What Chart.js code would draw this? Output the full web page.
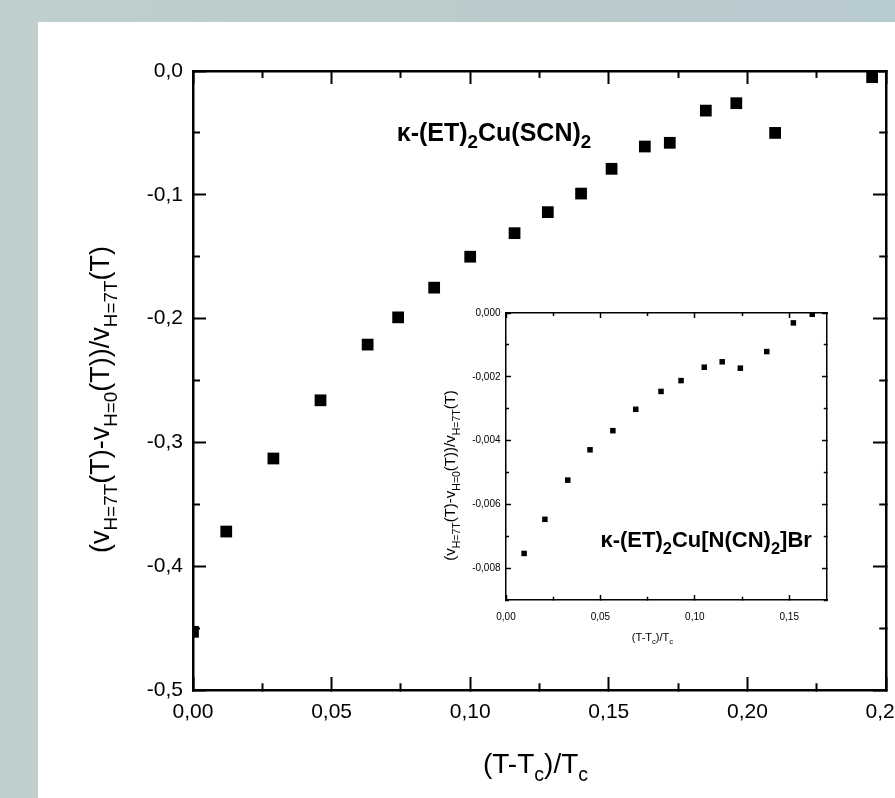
<!DOCTYPE html>
<html>
<head>
<meta charset="utf-8">
<title>Sound velocity change vs reduced temperature</title>
<script src="https://cdn.jsdelivr.net/npm/chart.js@4.4.1/dist/chart.umd.min.js"></script>
<style>
    html, body {
        margin: 0;
        width: 895px;
        height: 798px;
        overflow: hidden;
    }
    body {
        background: linear-gradient(90deg, #bfcfcc 0%, #bccccd 50%, #b7cad0 100%);
    }
    #panel {
        position: absolute;
        left: 38px;
        top: 22px;
        right: 0;
        bottom: 0;
        background: #ffffff;
    }
    #mainChart {
        position: absolute;
        left: 38px;
        top: 22px;
    }
    #insetChart {
        position: absolute;
        left: 440px;
        top: 295px;
        background: #ffffff;
    }
</style>
</head>
<body>
<div id="panel"></div>
<canvas id="mainChart" width="892" height="776"></canvas>
<canvas id="insetChart" width="400" height="355"></canvas>
<script>
// kappa-(ET)2Cu(SCN)2, main panel
const mainX = [0.000, 0.012, 0.029, 0.046, 0.063, 0.074, 0.087, 0.100, 0.116, 0.128, 0.140, 0.151, 0.163, 0.172, 0.185, 0.196, 0.210, 0.245];
const mainY = [-0.453, -0.372, -0.313, -0.266, -0.221, -0.199, -0.175, -0.150, -0.131, -0.114, -0.099, -0.079, -0.061, -0.058, -0.032, -0.026, -0.050, -0.005];

// kappa-(ET)2Cu[N(CN)2]Br, inset
const insetX = [0.0096, 0.0206, 0.0327, 0.0445, 0.0566, 0.0687, 0.0821, 0.0927, 0.1050, 0.1145, 0.1241, 0.1381, 0.1522, 0.1622];
const insetY = [-0.00754, -0.00647, -0.00524, -0.00429, -0.00369, -0.00302, -0.00246, -0.00212, -0.00170, -0.00153, -0.00173, -0.00121, -0.00031, -0.00004];

// axis ranges: [min, max, minor step, major step, decimals]
const mainXRange = [0, 0.25, 0.025, 0.05, 2];
const mainYRange = [-0.5, 0, 0.05, 0.1, 1];
const insetXRange = [0, 0.17, 0.025, 0.05, 2];
const insetYRange = [-0.009, 0, 0.001, 0.002, 3];

// text pieces, second item marks a subscript
const yTitle = [['(v', 0], ['H=7T', 1], ['(T)-v', 0], ['H=0', 1], ['(T))/v', 0], ['H=7T', 1], ['(T)', 0]];
const xTitle = [['(T-T', 0], ['c', 1], [')/T', 0], ['c', 1]];
const mainLabel = [['\u03BA-(ET)', 0], ['2', 1], ['Cu(SCN)', 0], ['2', 1]];
const insetLabel = [['\u03BA-(ET)', 0], ['2', 1], ['Cu[N(CN)', 0], ['2', 1], [']Br', 0]];

const FONT = '"Liberation Sans", Arial, Helvetica, sans-serif';

function isMajor(v, step) {
    return Math.abs(v / step - Math.round(v / step)) < 1e-6;
}

function fmt(v, digits) {
    if (Math.abs(v) < 1e-12) v = 0;
    return v.toFixed(digits).replace('.', ',');
}

function toPoints(xs, ys) {
    return xs.map((x, i) => ({ x: x, y: ys[i] }));
}

// one axis side; inward ticks through a negative tickLength,
// minor ticks shortened with a dash pattern
function makeAxis(position, range, o) {
    const horiz = position === 'top' || position === 'bottom';
    const half = o.border / 2;
    const minorDash = (position === 'bottom' || position === 'right')
        ? [o.minorTick + half, 1000]
        : [0, o.tick - o.minorTick, o.minorTick + half, 1000];
    return {
        type: 'linear',
        position: position,
        min: range[0],
        max: range[1],
        afterFit: function (scale) {
            if (horiz) scale.height = o.fit; else scale.width = o.fit;
        },
        border: { display: true, color: '#000', width: o.border },
        grid: {
            drawOnChartArea: false,
            drawTicks: true,
            tickLength: -o.tick,
            tickWidth: o.tickWidth,
            tickColor: '#000',
            tickBorderDash: function (c) {
                if (!c.tick) return [];
                return isMajor(c.tick.value, range[3]) ? [] : minorDash;
            }
        },
        ticks: {
            display: o.labels,
            stepSize: range[2],
            includeBounds: false,
            autoSkip: false,
            maxRotation: 0,
            minRotation: 0,
            padding: o.padding,
            color: '#000',
            font: { family: FONT, size: o.size },
            callback: function (v) {
                return isMajor(v, range[3]) ? fmt(v, range[4]) : '';
            }
        }
    };
}

// text with subscripts; x,y is the baseline anchor
function drawRich(ctx, parts, x, y, o) {
    const weight = o.bold ? 'bold ' : '';
    const subSize = o.size * (o.subScale || 0.7);
    const drop = o.size * 0.3;
    ctx.save();
    const widths = parts.map(function (p) {
        ctx.font = weight + (p[1] ? subSize : o.size) + 'px ' + FONT;
        return ctx.measureText(p[0]).width;
    });
    const total = widths.reduce((a, b) => a + b, 0);
    ctx.translate(x, y);
    if (o.rotate) ctx.rotate(o.rotate);
    ctx.fillStyle = '#000';
    ctx.textBaseline = 'alphabetic';
    ctx.textAlign = 'left';
    let cx = o.align === 'left' ? 0 : -total / 2;
    parts.forEach(function (p, i) {
        ctx.font = weight + (p[1] ? subSize : o.size) + 'px ' + FONT;
        ctx.fillText(p[0], cx, p[1] ? drop : 0);
        cx += widths[i];
    });
    ctx.restore();
}

// Main Chart
const mainAxisOpts = { border: 2.5, tick: 13, minorTick: 7, tickWidth: 2, size: 21 };

const mainTexts = {
    id: 'mainTexts',
    afterDraw: function (chart) {
        const a = chart.chartArea;
        const ctx = chart.ctx;
        drawRich(ctx, yTitle, a.left - 84, (a.top + a.bottom) / 2 + 19, { size: 27, rotate: -Math.PI / 2 });
        drawRich(ctx, xTitle, (a.left + a.right) / 2 - 4, a.bottom + 83, { size: 28 });
        drawRich(ctx, mainLabel, chart.scales.x.getPixelForValue(0.0735), chart.scales.y.getPixelForValue(-0.0565),
            { size: 25, bold: true, align: 'left', subScale: 0.75 });
    }
};

new Chart(document.getElementById('mainChart').getContext('2d'), {
    type: 'scatter',
    data: {
        datasets: [{
            data: toPoints(mainX, mainY),
            pointStyle: 'rect',
            pointRadius: 8.3,
            backgroundColor: '#000',
            borderWidth: 0,
            clip: 0
        }]
    },
    options: {
        responsive: false,
        animation: false,
        events: [],
        // right side: the last tick label overflow (half label + padding) sets the gap
        layout: { padding: { top: 49, right: 44, left: 0, bottom: 0 } },
        plugins: { legend: { display: false }, tooltip: { enabled: false } },
        scales: {
            x: makeAxis('bottom', mainXRange, Object.assign({ fit: 108, labels: true, padding: 23 }, mainAxisOpts)),
            x2: makeAxis('top', mainXRange, Object.assign({ fit: 0, labels: false, padding: 0 }, mainAxisOpts)),
            y: makeAxis('left', mainYRange, Object.assign({ fit: 155, labels: true, padding: 23 }, mainAxisOpts)),
            y2: makeAxis('right', mainYRange, Object.assign({ fit: 0, labels: false, padding: 0 }, mainAxisOpts))
        }
    },
    plugins: [mainTexts]
});

// Inset Chart
const insetAxisOpts = { border: 1.5, tick: 5, minorTick: 3, tickWidth: 1.5, size: 10 };

const insetTexts = {
    id: 'insetTexts',
    afterDraw: function (chart) {
        const a = chart.chartArea;
        const ctx = chart.ctx;
        drawRich(ctx, yTitle, a.left - 51, (a.top + a.bottom) / 2 + 19, { size: 15, rotate: -Math.PI / 2 });
        drawRich(ctx, xTitle, (a.left + a.right) / 2 - 14, a.bottom + 41, { size: 11 });
        drawRich(ctx, insetLabel, chart.scales.x.getPixelForValue(0.050), chart.scales.y.getPixelForValue(-0.00734),
            { size: 22, bold: true, align: 'left', subScale: 0.75 });
    }
};

new Chart(document.getElementById('insetChart').getContext('2d'), {
    type: 'scatter',
    data: {
        datasets: [{
            data: toPoints(insetX, insetY),
            pointStyle: 'rect',
            pointRadius: 3.9,
            backgroundColor: '#000',
            borderWidth: 0,
            clip: 0
        }]
    },
    options: {
        responsive: false,
        animation: false,
        events: [],
        layout: { padding: { top: 18, right: 13, left: 0, bottom: 0 } },
        plugins: { legend: { display: false }, tooltip: { enabled: false } },
        scales: {
            x: makeAxis('bottom', insetXRange, Object.assign({ fit: 50, labels: true, padding: 16 }, insetAxisOpts)),
            x2: makeAxis('top', insetXRange, Object.assign({ fit: 0, labels: false, padding: 0 }, insetAxisOpts)),
            y: makeAxis('left', insetYRange, Object.assign({ fit: 66, labels: true, padding: 10.5 }, insetAxisOpts)),
            y2: makeAxis('right', insetYRange, Object.assign({ fit: 0, labels: false, padding: 0 }, insetAxisOpts))
        }
    },
    plugins: [insetTexts]
});
</script>
</body>
</html>
